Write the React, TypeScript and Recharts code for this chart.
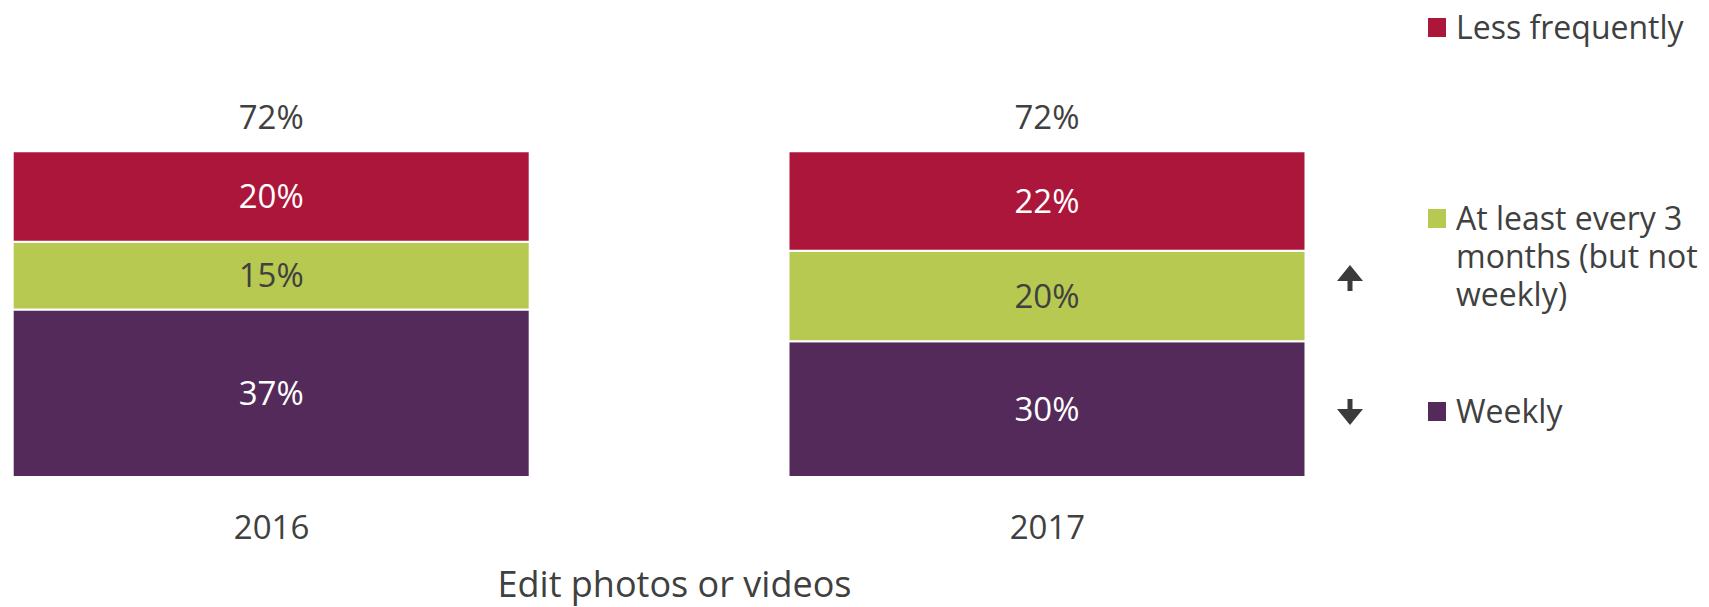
import React from 'react';
import { BarChart, Bar, XAxis, YAxis, LabelList, Legend, Label } from 'recharts';

// values (percent of respondents)
const years = [2016, 2017];
const weekly = [37, 30];
const quarterly = [15, 20];
const lessFrequently = [20, 22];
const totals = [72, 72];

const seriesNames = ['Weekly', 'At least every 3 months (but not weekly)', 'Less frequently'];
const legendLines = [['Less frequently'], ['At least every 3', 'months (but not', 'weekly)'], ['Weekly']];
const changes = ['', 'up', 'down'];

const title = 'Edit photos or videos';

const RED = '#AD163B';
const GREEN = '#B7C951';
const PURPLE = '#532A5A';
const TEXT = '#404040';
const FONT = '"Open Sans", "Noto Sans", sans-serif';

const data = years.map((year, i) => ({
  year,
  weekly: weekly[i],
  quarterly: quarterly[i],
  lessFrequently: lessFrequently[i],
  total: totals[i],
}));

const pct = (v: any) => `${v}%`;

const Arrow = ({ dir, top }: { dir: string; top: number }) => {
  const cx = 30;
  // 26px tall arrow: 16px head, 10px stem
  const d =
    dir === 'up'
      ? `M${cx} ${top} L${cx + 13} ${top + 16} L${cx + 2.5} ${top + 16} L${cx + 2.5} ${top + 26} L${cx - 2.5} ${top + 26} L${cx - 2.5} ${top + 16} L${cx - 13} ${top + 16} Z`
      : `M${cx - 2.5} ${top} L${cx + 2.5} ${top} L${cx + 2.5} ${top + 10} L${cx + 13} ${top + 10} L${cx} ${top + 26} L${cx - 13} ${top + 10} L${cx - 2.5} ${top + 10} Z`;
  return <path d={d} fill="#3b3b3b" />;
};

const LegendContent = () => {
  const colors = [RED, GREEN, PURPLE];
  const baselines = [39, 230, 423];
  const arrowTops = [0, 265, 399];
  return (
    <svg width={389} height={607} style={{ display: 'block', overflow: 'visible' }}>
      {legendLines.map((lines, i) => (
        <g key={i}>
          <rect x={108} y={baselines[i] - 21} width={18} height={19} fill={colors[i]} />
          <text x={136} y={baselines[i]} fontFamily={FONT} fontSize={32} fill={TEXT}>
            {lines.map((line, j) => (
              <tspan key={j} x={136} dy={j === 0 ? 0 : 38}>
                {line}
              </tspan>
            ))}
          </text>
          {changes[i] && <Arrow dir={changes[i]} top={arrowTops[i]} />}
        </g>
      ))}
    </svg>
  );
};

export default function App() {
  return (
    <div style={{ position: 'absolute', left: 0, top: 0, width: 1709, height: 607, background: '#fff' }}>
      <BarChart
        width={1709}
        height={607}
        data={data}
        margin={{ top: 115, right: 403, bottom: 70, left: 13 }}
      >
        <XAxis
          dataKey="year"
          type="number"
          domain={[2016 - 1 / 3, 2017 + 1 / 3]}
          ticks={years}
          height={60}
          axisLine={false}
          tickLine={false}
          tickSize={0}
          tickMargin={39}
          tick={{ fill: TEXT, fontSize: 33, fontFamily: FONT }}
        >
          <Label
            value={title}
            position="bottom"
            offset={34}
            dx={15}
            fill={TEXT}
            fontSize={36}
            fontFamily={FONT}
          />
        </XAxis>
        <YAxis hide domain={[0, 80]} />
        <Legend
          layout="vertical"
          align="center"
          verticalAlign="middle"
          content={<LegendContent />}
          wrapperStyle={{ left: 1320, top: 0, width: 389, height: 607 }}
        />
        <Bar
          dataKey="weekly"
          name={seriesNames[0]}
          stackId="a"
          fill={PURPLE}
          stroke="#fff"
          strokeWidth={2}
          barSize={517}
          isAnimationActive={false}
        >
          <LabelList dataKey="weekly" position="center" formatter={pct} fill="#fff" fontSize={33} fontFamily={FONT} />
        </Bar>
        <Bar
          dataKey="quarterly"
          name={seriesNames[1]}
          stackId="a"
          fill={GREEN}
          stroke="#fff"
          strokeWidth={2}
          barSize={517}
          isAnimationActive={false}
        >
          <LabelList dataKey="quarterly" position="center" formatter={pct} fill={TEXT} fontSize={33} fontFamily={FONT} />
        </Bar>
        <Bar
          dataKey="lessFrequently"
          name={seriesNames[2]}
          stackId="a"
          fill={RED}
          stroke="#fff"
          strokeWidth={2}
          barSize={517}
          isAnimationActive={false}
        >
          <LabelList dataKey="lessFrequently" position="center" formatter={pct} fill="#fff" fontSize={33} fontFamily={FONT} />
          <LabelList dataKey="total" position="top" offset={22} formatter={pct} fill={TEXT} fontSize={33} fontFamily={FONT} />
        </Bar>
      </BarChart>
    </div>
  );
}
